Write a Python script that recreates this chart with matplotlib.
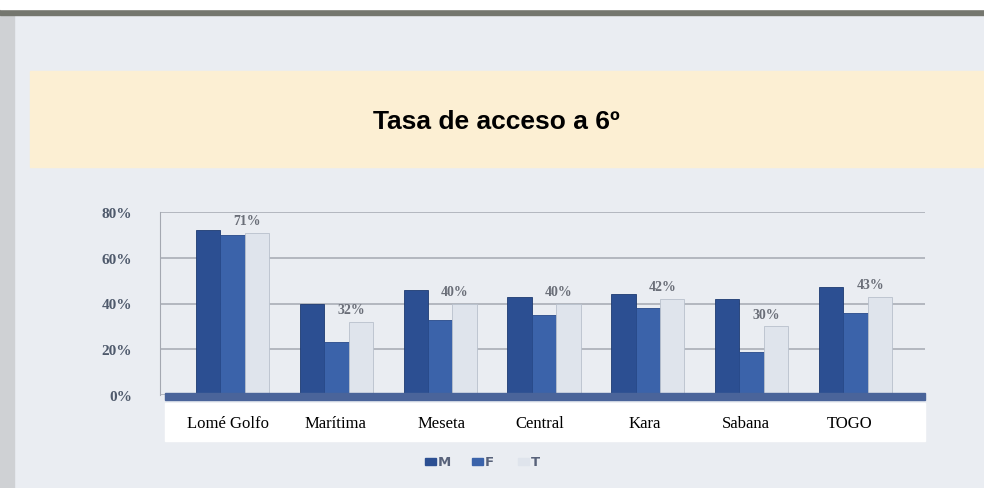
import numpy as np
import matplotlib.pyplot as plt
from matplotlib.patches import Rectangle

# data
regions = ['Lomé Golfo', 'Marítima', 'Meseta', 'Central', 'Kara', 'Sabana', 'TOGO']
m_vals = [72, 40, 46, 43, 44, 42, 47]
f_vals = [70, 23, 33, 35, 38, 19, 36]
t_vals = [71, 32, 40, 40, 42, 30, 43]
t_labels = ['71%', '32%', '40%', '40%', '42%', '30%', '43%']
yticks = [0, 20, 40, 60, 80]

W, H = 984, 489
fig = plt.figure(figsize=(W / 100, H / 100), dpi=100)
fig.patch.set_facecolor('#eaedf2')

def fx(px):
    return px / W

def fy(py):
    return 1 - py / H

# photo border bits
fig.add_artist(Rectangle((0, 0), fx(14), 1, transform=fig.transFigure, color='#cfd1d4', zorder=0))
fig.add_artist(Rectangle((0, fy(16)), 1, 6 / H, transform=fig.transFigure, color='#75776f', zorder=0))
fig.add_artist(Rectangle((0, fy(10)), 1, 10 / H, transform=fig.transFigure, color='white', zorder=0))

# title band
fig.add_artist(Rectangle((fx(30), fy(168)), 1, 96 / H, transform=fig.transFigure,
                         color='#fcefd3', zorder=0))
fig.text(fx(496), fy(122), 'Tasa de acceso a 6º', ha='center', va='center',
         fontsize=19, fontweight='bold', family='Liberation Sans', color='black')

# chart axes
ax = fig.add_axes([fx(160), fy(396), fx(925 - 160), (396 - 213) / H])
ax.set_facecolor('none')
x = np.arange(len(regions))
w = 0.235
ax.bar(x - w, m_vals, w, color='#2c4f92', edgecolor='#1d3a72', linewidth=0.6, zorder=3)
ax.bar(x, f_vals, w, color='#3b63aa', edgecolor='#27498a', linewidth=0.6, zorder=3)
ax.bar(x + w, t_vals, w, color='#dfe4ec', edgecolor='#b8c0cc', linewidth=0.6, zorder=3)

for xi, v, lab in zip(x, t_vals, t_labels):
    ax.text(xi + w * 0.6, v + 2.5, lab, ha='center', va='bottom', fontsize=10,
            family='Liberation Serif', fontweight='bold', color='#6a6e78', zorder=4)

ax.set_xlim(-0.7, 6.67)
ax.set_ylim(0, 80)
ax.set_yticks(yticks)
ax.set_yticklabels([f'{v}%' for v in yticks], family='Liberation Serif',
                   fontweight='bold', fontsize=11, color='#4f5a6c')
ax.tick_params(axis='y', length=0, pad=20)
ax.set_xticks([])
ax.yaxis.grid(True, color='#a4a8b1', linewidth=1.1, zorder=0)
for s in ['top', 'right', 'bottom']:
    ax.spines[s].set_visible(False)
ax.spines['left'].set_color('#a4a8b1')

# floor of the 3d chart
fig.add_artist(Rectangle((fx(165), fy(401)), fx(925 - 165), 7 / H, transform=fig.transFigure,
                         color='#4a649a', zorder=1))

# white box with category names
fig.add_artist(Rectangle((fx(165), fy(442)), fx(925 - 165), 38 / H, transform=fig.transFigure,
                         color='white', zorder=2))
label_px = [228, 335, 442, 540, 645, 746, 850]
for px, name in zip(label_px, regions):
    fig.text(fx(px), fy(424), name, ha='center', va='center', fontsize=12,
             family='Liberation Serif', color='black', zorder=3)

# legend
leg_items = [('M', '#2c4f92', 425), ('F', '#3b63aa', 472), ('T', '#dfe4ec', 518)]
for name, col, px in leg_items:
    fig.add_artist(Rectangle((fx(px), fy(466)), fx(11), 7 / H, transform=fig.transFigure,
                             color=col, zorder=3))
    fig.text(fx(px + 13), fy(463), name, ha='left', va='center', fontsize=9.5,
             family='DejaVu Sans', fontweight='bold', color='#58627a', zorder=3)

fig.savefig('out.png', dpi=100)
